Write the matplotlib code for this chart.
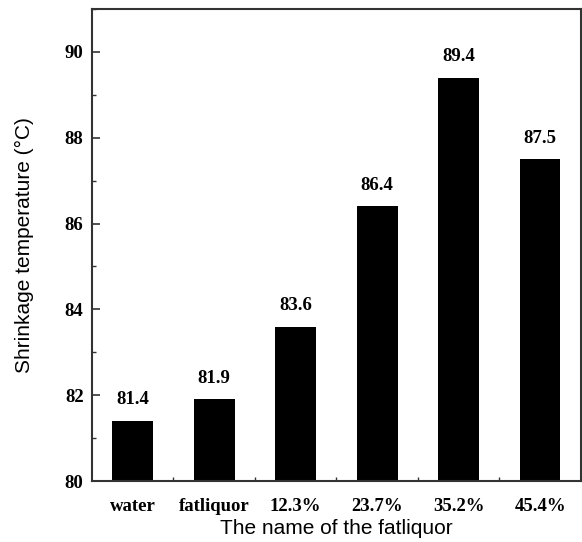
import matplotlib.pyplot as plt
from matplotlib.ticker import MultipleLocator, FixedLocator

categories = ["water", "fatliquor", "12.3%", "23.7%", "35.2%", "45.4%"]
temps = [81.4, 81.9, 83.6, 86.4, 89.4, 87.5]

fig = plt.figure(figsize=(5.82, 5.42), dpi=100)
ax = fig.add_axes([0.158, 0.1125, 0.84, 0.871])

x = list(range(len(categories)))
ax.bar(x, temps, width=0.5, color="black", bottom=0)

serif = {"family": "Liberation Serif", "weight": "bold", "size": 13.5}
for xi, v in zip(x, temps):
    ax.annotate(f"{v}", (xi, v), xytext=(0, 9), textcoords="offset points",
                ha="center", va="bottom", **serif)

ax.set_xlim(-0.5, 5.5)
ax.set_ylim(80, 91)
ax.set_xticks(x)
ax.set_xticklabels(categories, fontdict=serif)
ax.xaxis.set_minor_locator(FixedLocator([i + 0.5 for i in range(5)]))
ax.yaxis.set_major_locator(FixedLocator([80, 82, 84, 86, 88, 90]))
ax.yaxis.set_minor_locator(MultipleLocator(1))
for lab in ax.get_yticklabels():
    lab.set_fontproperties("Liberation Serif")
    lab.set_fontweight("bold")
    lab.set_fontsize(13.5)

ax.tick_params(axis="x", which="major", length=0, pad=12)
ax.tick_params(axis="x", which="minor", direction="in", length=3, width=1, color="#333333")
ax.tick_params(axis="y", which="major", direction="in", length=6, width=1.2, color="#333333", pad=6)
ax.tick_params(axis="y", which="minor", direction="in", length=3, width=1, color="#333333")

for s in ax.spines.values():
    s.set_linewidth(1.5)
    s.set_color("#333333")

ax.set_xlabel("The name of the fatliquor", fontfamily="Liberation Sans", fontsize=15, labelpad=3)
ax.set_ylabel("Shrinkage temperature (\u00b0C)", fontfamily="Liberation Sans", fontsize=15, labelpad=22)

fig.savefig("out.png", dpi=100)
